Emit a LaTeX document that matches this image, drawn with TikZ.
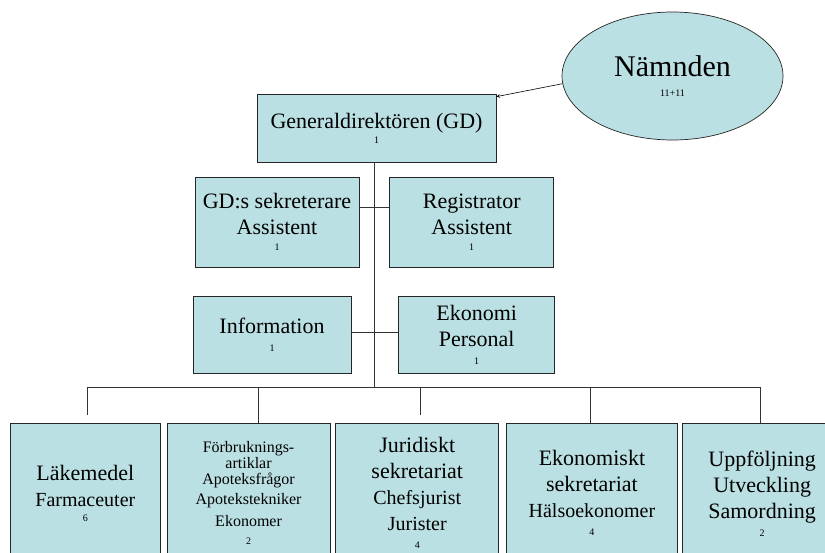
\documentclass[tikz,border=0pt]{standalone}
\usepackage{fontspec}
\setmainfont{Liberation Serif}
\usetikzlibrary{positioning,arrows,shapes.geometric}
\definecolor{boxblue}{HTML}{BBE0E3}
\newcommand{\antal}[1]{{\fontsize{10}{12}\selectfont #1}}
\newcommand{\mellan}{\fontsize{20}{24}\selectfont}
\tikzstyle{unit}  = [rectangle, draw=black!85, line width=0.7pt, fill=boxblue, text centered, align=center, inner sep=0pt, font=\fontsize{22}{26}\selectfont]
\tikzstyle{board} = [ellipse, draw=black!85, line width=0.7pt, fill=boxblue, minimum width=221pt, minimum height=128pt, inner sep=0pt, align=center, font=\fontsize{30}{34}\selectfont]
\tikzstyle{line}  = [draw=black!80, line width=0.6pt]
\tikzstyle{arrow} = [draw=black, line width=0.6pt, ->, >=stealth]

\begin{document}
\begin{tikzpicture}[x=1pt,y=-1pt]
        \useasboundingbox (0,0) rectangle (825,552);
        \clip (0,0) rectangle (825,552);

        \node (nam) [board] at (672.5,76) {Nämnden\\[-14pt]\antal{11+11}};
        \node (gd) [unit, minimum width=239pt, minimum height=68pt] at (376.5,128) {Generaldirektören (GD)\\[-11pt]\antal{1}};

        \node (sek) [unit, minimum width=164pt, minimum height=90pt] at (277,222) {GD:s sekreterare\\Assistent\\[-10pt]\antal{1}};
        \node (reg) [unit, minimum width=164pt, minimum height=90pt, right=30pt of sek] {Registrator\\Assistent\\[-10pt]\antal{1}};
        \node (inf) [unit, minimum width=158pt, minimum height=77pt] at (272,334.5) {Information\\[-8pt]\antal{1}};
        \node (eko) [unit, minimum width=156pt, minimum height=77pt, right=47pt of inf] {Ekonomi\\Personal\\[-8pt]\antal{1}};

        \node (lak) [unit, minimum width=150pt, minimum height=140pt, anchor=north west] at (10,423) {Läkemedel\\{\mellan Farmaceuter}\\[-11pt]\antal{6}};
        \node (forb) [unit, font=\fontsize{16}{16}\selectfont, minimum width=163pt, minimum height=140pt, right=6pt of lak] {Förbruknings-\\artiklar\\Apoteksfrågor\\[4pt]Apotekstekniker\\[6pt]Ekonomer\\[2pt]\antal{2}};
        \node (jur) [unit, minimum width=163pt, minimum height=140pt, right=5pt of forb] {Juridiskt\\sekretariat\\{\mellan Chefsjurist}\\{\mellan Jurister}\\[-8pt]\antal{4}};
        \node (eks) [unit, minimum width=171pt, minimum height=140pt, right=7pt of jur] {Ekonomiskt\\sekretariat\\{\mellan Hälsoekonomer}\\[-8pt]\antal{4}};
        \node (upp) [unit, minimum width=160pt, minimum height=140pt, right=4pt of eks] {Uppföljning\\Utveckling\\Samordning\\[-8pt]\antal{2}};

        \coordinate (trunk) at ([xshift=-2.5pt]gd.south);
        \coordinate (bus) at (trunk |- 0,387);

        \draw [arrow] (nam.184) -- ([yshift=-3pt]gd.north east);
        \draw [line] (trunk) -- (bus);
        \draw [line] ([yshift=15pt]sek.east) -- ([yshift=15pt]sek.east -| reg.west);
        \draw [line] ([yshift=2pt]inf.east) -- ([yshift=2pt]inf.east -| eko.west);
        \draw [line] ([xshift=2pt]lak.north |- bus) -- ([xshift=-2pt]upp.north |- bus);
        \draw [line] ([xshift=2pt]lak.north |- bus) -- ([xshift=2pt, yshift=8pt]lak.north);
        \draw [line] ([xshift=9.5pt]forb.north |- bus) -- ([xshift=9.5pt]forb.north);
        \draw [line] ([xshift=3.5pt]jur.north |- bus) -- ([xshift=3.5pt, yshift=8pt]jur.north);
        \draw [line] ([xshift=-1.5pt]eks.north |- bus) -- ([xshift=-1.5pt]eks.north);
        \draw [line] ([xshift=-2pt]upp.north |- bus) -- ([xshift=-2pt]upp.north);
\end{tikzpicture}
\end{document}
